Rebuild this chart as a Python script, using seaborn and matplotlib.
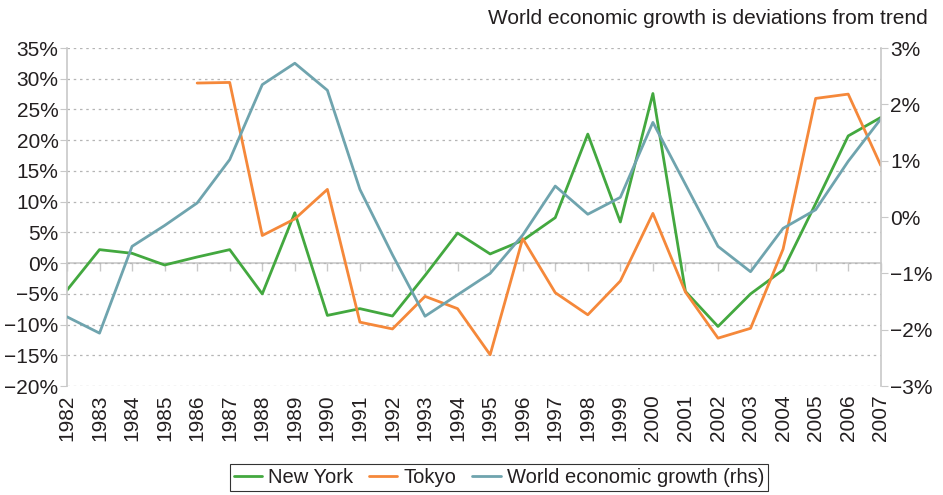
import numpy as np
import pandas as pd
import matplotlib
matplotlib.use("Agg")
import matplotlib.pyplot as plt
import seaborn as sns
from matplotlib.ticker import FuncFormatter

years = list(range(1982, 2008))

new_york = [-4.4, 2.2, 1.6, -0.3, 1.0, 2.2, -5.0, 8.2, -8.5, -7.4, -8.6, -2.0,
            4.9, 1.5, 3.7, 7.4, 21.0, 6.7, 27.6, -4.6, -10.3, -5.0, -1.1, 9.7,
            20.7, 23.7]

tokyo = [np.nan, np.nan, np.nan, np.nan, 29.3, 29.4, 4.5, 7.2, 12.0, -9.6, -10.7,
         -5.4, -7.4, -14.9, 4.0, -4.8, -8.4, -2.9, 8.1, -4.7, -12.2, -10.6, 2.3,
         26.8, 27.5, 15.9]

world_growth = [-1.77, -2.06, -0.52, -0.15, 0.25, 1.02, 2.35, 2.73, 2.25, 0.49,
                -0.67, -1.76, -1.38, -1.0, -0.32, 0.55, 0.05, 0.35, 1.68, 0.58,
                -0.52, -0.97, -0.2, 0.13, 0.99, 1.74]

green = "#43a83f"
orange = "#f5883a"
teal = "#6fa4ae"
text_col = "#231f20"
axis_gray = "#c8c8c8"

sns.set_style("white")
plt.rcParams['font.family'] = ['Liberation Sans', 'DejaVu Sans']
plt.rcParams['axes.unicode_minus'] = True

df = pd.DataFrame({'year': years, 'New York': new_york, 'Tokyo': tokyo,
                   'World economic growth (rhs)': world_growth})

fig = plt.figure(figsize=(9.43, 4.95), dpi=100)
ax = fig.add_axes([0.071, 0.220, 0.863, 0.683])
ax2 = ax.twinx()

sns.lineplot(data=df, x='year', y='New York', ax=ax, color=green, lw=2.0,
             label='New York', legend=False)
sns.lineplot(data=df, x='year', y='Tokyo', ax=ax, color=orange, lw=2.0,
             label='Tokyo', legend=False)
sns.lineplot(data=df, x='year', y='World economic growth (rhs)', ax=ax2,
             color=teal, lw=2.0, label='World economic growth (rhs)', legend=False)

ax.set_xlim(1982, 2007)
ax.set_ylim(-20, 35)
ax2.set_ylim(-3, 3)

pct = FuncFormatter(lambda v, p: f"{v:.0f}%".replace('-', '\u2212'))
ax.set_yticks(np.arange(-20, 36, 5))
ax.yaxis.set_major_formatter(pct)
ax2.set_yticks(np.arange(-3, 4, 1))
ax2.yaxis.set_major_formatter(pct)

ax.set_xticks(years)
ax.set_xticklabels([str(y) for y in years], rotation=90)
ax.tick_params(axis='x', length=0, pad=6, labelsize=15, colors=text_col)
ax.tick_params(axis='y', length=5, color=axis_gray, labelsize=15, labelcolor=text_col, pad=1)
ax2.tick_params(axis='y', length=5, color=axis_gray, labelsize=15, labelcolor=text_col, pad=2)

ax.set_xlabel('')
ax.set_ylabel('')
ax2.set_ylabel('')

# dashed grid on left scale
ax.grid(axis='y', color='#b5b5b5', linestyle=(0, (2, 3)), linewidth=0.9)
ax.grid(axis='x', visible=False)
ax.set_axisbelow(True)

for a in (ax, ax2):
    for s in ('top', 'bottom'):
        a.spines[s].set_visible(False)
ax.spines['right'].set_visible(False)
ax2.spines['left'].set_visible(False)
ax.spines['left'].set_color(axis_gray)
ax2.spines['right'].set_color(axis_gray)
ax.spines['left'].set_linewidth(1.2)
ax2.spines['right'].set_linewidth(1.2)

# zero line with year ticks
zero_axis = ax.secondary_xaxis(20 / 55)
zero_axis.set_xticks(years)
zero_axis.set_xticklabels([])
zero_axis.tick_params(length=6, color=axis_gray, width=1.0)
zero_axis.spines['bottom'].set_color(axis_gray)
zero_axis.spines['bottom'].set_linewidth(1.2)

fig.text(0.984, 0.963, 'World economic growth is deviations from trend',
         ha='right', va='center', fontsize=15, color=text_col)

h1, l1 = ax.get_legend_handles_labels()
h2, l2 = ax2.get_legend_handles_labels()
leg = fig.legend(h1 + h2, l1 + l2, loc='center', bbox_to_anchor=(0.529, 0.036),
                 ncol=3, fontsize=14.5, frameon=True, fancybox=False,
                 handlelength=1.4, handletextpad=0.3, columnspacing=0.8,
                 borderpad=0.2, labelcolor=text_col)
leg.get_frame().set_edgecolor('black')
leg.get_frame().set_linewidth(0.8)

fig.savefig('out.png', dpi=100)
